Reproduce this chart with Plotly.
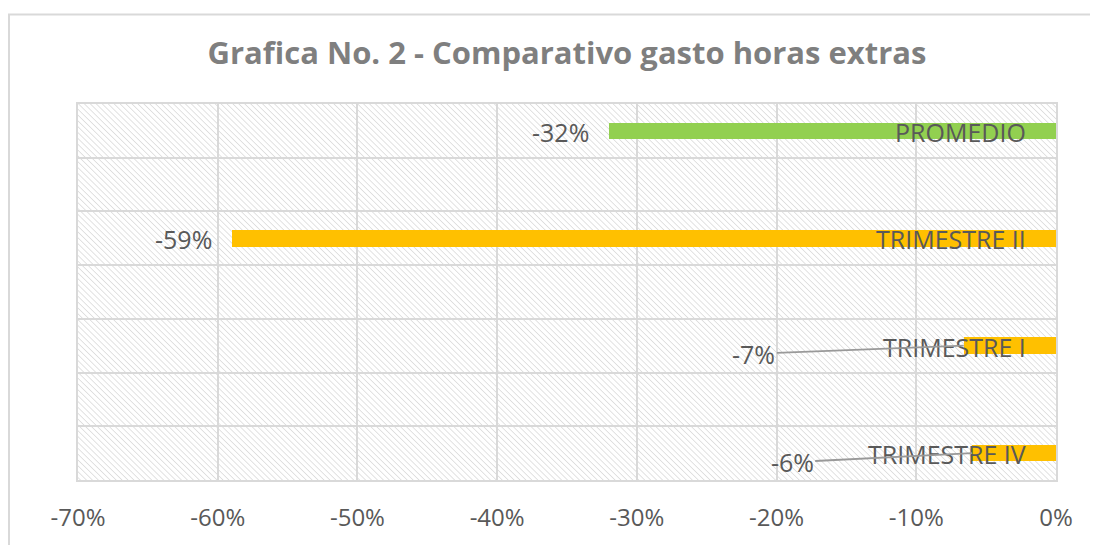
import plotly.graph_objects as go
import base64

# Data
categories = ["TRIMESTRE IV", "TRIMESTRE I", "TRIMESTRE II", "PROMEDIO"]
values = [-0.06, -0.066, -0.59, -0.32]
bar_colors = ["#FFC000", "#FFC000", "#FFC000", "#92D050"]
# spacer rows between the bars (blank bands in the chart)
row_order = ["TRIMESTRE IV", " ", "TRIMESTRE I", "  ", "TRIMESTRE II", "   ", "PROMEDIO"]
x_ticks = [-0.7, -0.6, -0.5, -0.4, -0.3, -0.2, -0.1, 0.0]
x_ticktext = [f"{t*100:.0f}%".replace("-0%", "0%") for t in x_ticks]

W, H = 1090, 537
ML, MR, MT, MB = 70, 42, 96, 59
PW, PH = W - ML - MR, H - MT - MB

FONT = "Open Sans, Lato, sans-serif"

fig = go.Figure()
fig.add_trace(go.Bar(
    x=values, y=categories, orientation="h",
    marker=dict(color=bar_colors, line=dict(width=0)),
    width=0.31, hoverinfo="skip", showlegend=False,
))

# hatched background as svg pattern
svg = f'''<svg xmlns="http://www.w3.org/2000/svg" width="{PW}" height="{PH}">
<defs><pattern id="p" width="4.2" height="4.2" patternUnits="userSpaceOnUse" patternTransform="rotate(-45)">
<rect width="4.2" height="4.2" fill="white"/><line x1="0" y1="0" x2="0" y2="4.2" stroke="#d9d9d9" stroke-width="1.5"/></pattern></defs>
<rect width="{PW}" height="{PH}" fill="url(#p)"/></svg>'''
src = "data:image/svg+xml;base64," + base64.b64encode(svg.encode()).decode()

annotations = []
label_font = dict(family=FONT, size=25, color="#595959")
# category name labels near zero
for c in categories:
    annotations.append(dict(x=0, y=c, xref="x", yref="y", text=c, showarrow=False,
                            xanchor="right", yanchor="middle", xshift=-28, yshift=-1,
                            font=label_font))
# value labels
for c, v in zip(categories, values):
    txt = f"{v*100:.0f}%"
    if abs(v) > 0.2:
        annotations.append(dict(x=v, y=c, xref="x", yref="y", text=txt, showarrow=False,
                                xanchor="right", yanchor="middle", xshift=-18, yshift=-1,
                                font=label_font))
    else:
        ax, ay = (-210, 8) if c == "TRIMESTRE I" else (-180, 9)
        annotations.append(dict(x=v, y=c, xref="x", yref="y", text=txt, showarrow=True,
                                arrowhead=0, arrowwidth=1.8, arrowcolor="#999999",
                                ax=ax, ay=ay, font=label_font, standoff=0))

fig.update_layout(
    width=W, height=H,
    margin=dict(l=ML, r=MR, t=MT, b=MB),
    paper_bgcolor="white", plot_bgcolor="rgba(0,0,0,0)",
    title=dict(text="<b>Grafica No. 2 - Comparativo gasto horas extras</b>",
               x=0.5, xref="paper", xanchor="center", y=1 - 45 / H, yanchor="middle",
               font=dict(family=FONT, size=31, color="#7f7f7f")),
    xaxis=dict(range=[-0.7, 0], tickvals=x_ticks, ticktext=x_ticktext,
               showgrid=True, gridcolor="#d9d9d9", gridwidth=2,
               zeroline=False, showline=True, mirror=True, linecolor="#d9d9d9", linewidth=2,
               ticks="outside", ticklen=15, tickcolor="rgba(0,0,0,0)",
               tickfont=dict(family=FONT, size=24, color="#595959"),
               fixedrange=True),
    yaxis=dict(categoryorder="array", categoryarray=row_order, type="category",
               range=[-0.5, 6.5], tickson="boundaries", showticklabels=False,
               showgrid=True, gridcolor="#d9d9d9", gridwidth=2, ticks="",
               zeroline=False, showline=True, mirror=True, linecolor="#d9d9d9", linewidth=2,
               fixedrange=True),
    images=[dict(source=src, xref="paper", yref="paper", x=0, y=1, sizex=1, sizey=1,
                 xanchor="left", yanchor="top", sizing="stretch", layer="below")],
    annotations=annotations,
    bargap=0,
)

# outer chart border (partly off the page, as in the reference)
fig.add_shape(type="rect", xref="paper", yref="paper",
              x0=(1 - ML) / PW, x1=(W + 10 - ML) / PW,
              y0=(MT + PH - (H + 10)) / PH, y1=(MT + PH - 5) / PH,
              line=dict(color="#d9d9d9", width=2), fillcolor="rgba(0,0,0,0)", layer="below")

fig.write_html("out.html")
